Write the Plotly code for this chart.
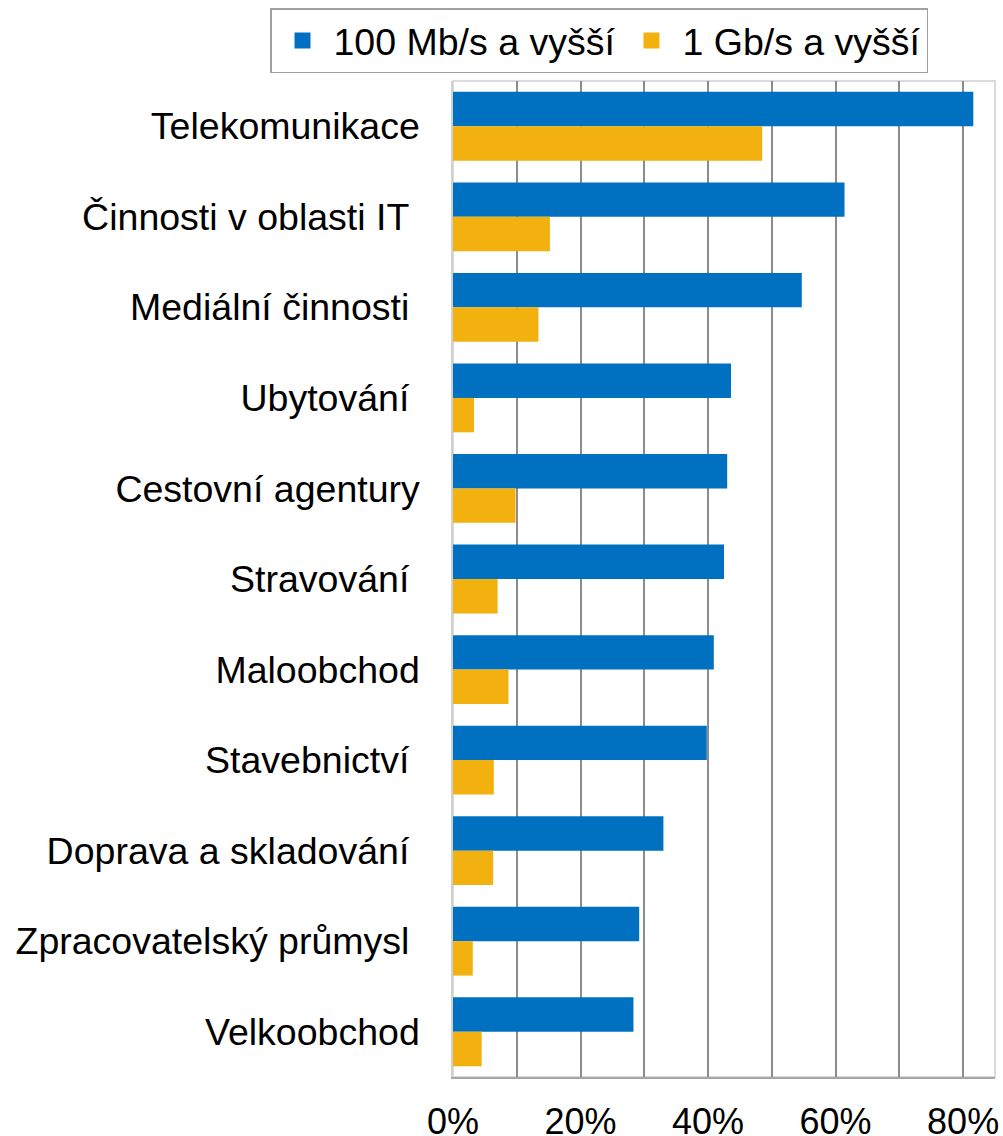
import plotly.graph_objects as go

categories = [
    "Telekomunikace",
    "Činnosti v oblasti IT\u00a0",
    "Mediální činnosti\u00a0",
    "Ubytování\u00a0",
    "Cestovní agentury",
    "Stravování\u00a0",
    "Maloobchod",
    "Stavebnictví\u00a0",
    "Doprava a skladování\u00a0",
    "Zpracovatelský průmysl\u00a0",
    "Velkoobchod",
]
speed_100mb = [0.816, 0.614, 0.547, 0.436, 0.430, 0.425, 0.409, 0.398, 0.330, 0.292, 0.283]
speed_1gb = [0.485, 0.152, 0.134, 0.033, 0.098, 0.070, 0.087, 0.064, 0.063, 0.031, 0.045]
series_names = ["100 Mb/s a vyšší", "1 Gb/s a vyšší"]
tick_values = [0, 0.2, 0.4, 0.6, 0.8]

BLUE = "#0070C0"
GOLD = "#F2B10F"
FONT = "Liberation Sans, Arial, sans-serif"

W, H = 1003, 1136
L, R, T, B = 453, 8, 81, 59
plot_h = H - T - B
plot_w = W - L - R

fig = go.Figure()
fig.add_trace(go.Bar(y=categories, x=speed_100mb, orientation="h", name=series_names[0],
                     marker=dict(color=BLUE, line=dict(width=0)), showlegend=False))
fig.add_trace(go.Bar(y=categories, x=speed_1gb, orientation="h", name=series_names[1],
                     marker=dict(color=GOLD, line=dict(width=0)), showlegend=False))
# legend proxies (larger square symbols)
for nm, col in zip(series_names, [BLUE, GOLD]):
    fig.add_trace(go.Scatter(x=[None], y=[None], mode="markers", name=nm,
                             marker=dict(symbol="square", size=16, color=col)))

fig.update_layout(
    width=W, height=H,
    margin=dict(l=L, r=R, t=T, b=B, autoexpand=False),
    paper_bgcolor="white", plot_bgcolor="white",
    barmode="group", bargap=0.24, bargroupgap=0,
    font=dict(family=FONT, size=36, color="black"),
    legend=dict(orientation="h",
                x=(270 - L) / plot_w, xanchor="left",
                y=1 + (T - 8) / plot_h, yanchor="top",
                bordercolor="#A0A0A0", borderwidth=1.5,
                font=dict(size=37.5, family=FONT), bgcolor="white",
                tracegroupgap=0, itemwidth=52),
    shapes=[dict(type="rect", xref="paper", yref="paper", x0=0, x1=1, y0=0, y1=1,
                 line=dict(color="#D0D0D0", width=1.5), layer="below")],
)
fig.update_xaxes(range=[0, 0.85], tickvals=tick_values, tickformat=".0%",
                 showgrid=True, gridcolor="#8C8C8C", gridwidth=1.5,
                 minor=dict(dtick=0.1, tick0=0, showgrid=True, gridcolor="#8C8C8C", gridwidth=1.5),
                 zeroline=False, showline=True, linecolor="#A6A6A6", linewidth=1.5,
                 ticks="", ticklabelstandoff=12, tickfont=dict(size=36, family=FONT),
                 fixedrange=True)
fig.update_yaxes(type="category", autorange="reversed", showgrid=False,
                 showline=True, linecolor="#D0D0D0", linewidth=1.5,
                 ticks="", ticklabelstandoff=24, tickfont=dict(size=37.5, family=FONT),
                 fixedrange=True)

fig.write_html("out.html", config={"displayModeBar": False},
               post_script="document.body.style.margin='0';document.body.style.overflow='hidden';")
